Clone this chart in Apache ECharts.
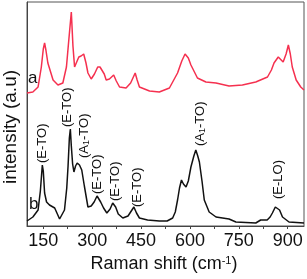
<!DOCTYPE html>
<html><head><meta charset="utf-8">
<script src="https://cdn.jsdelivr.net/npm/echarts@6/dist/echarts.min.js"></script>
<style>html,body{margin:0;padding:0;background:#fff}#c{width:307px;height:279px}</style>
</head><body><div id="c"></div>
<script>
// Raman shift (cm-1) and intensity (a.u.) for spectrum a (red) and b (black)
const shiftA = [100,118,134,144,150,154,158,164,180,195,210,221,228,236,241,246,251,259,266,274,281,287,297,307,317,324,330,337,343,353,366,374,384,404,418,432,438,445,476,506,537,562,575,585,595,603,623,649,680,720,761,802,838,850,858,871,886,895,902,908,914,926,940,950];
const intA   = [133,134,139,159,177,183,176,163,146,141,143,159,185,214,180,159,158,169,170,172,163,153,147,152,159,159,158,152,146,147,151,145,139,138,143,153,146,139,135,134,138,153,165,172,168,161,148,144,143,140,141,144,149,156,163,169,164,172,181,172,159,146,139,136];
const shiftB = [100,118,134,141,147,150,154,160,169,185,200,215,222,226,230,233,236,240,244,249,254,261,268,276,287,297,306,315,320,326,335,345,355,363,372,380,394,410,420,428,436,445,470,506,530,547,555,562,568,574,580,588,595,603,612,618,624,629,637,644,659,680,720,741,802,817,837,846,853,862,868,875,884,904,950];
const intB   = [5,9,16,35,61,55,33,24,21,18,7,16,38,60,88,97,80,62,54,60,63,61,56,40,19,20,24,30,29,24,18,13,17,23,19,12,8,10,15,19,13,8,6,5,5,8,14,26,38,46,42,39,45,59,70,76,70,64,45,26,14,9,7,4,3,6,6,9,13,19,21,16,9,4,3];
// peak assignments
const annoText = ['(E-TO)','(E-TO)','(A{s|1}-TO)','(E-TO)','(E-TO)','(E-TO)','(A{s|1}-TO)','(E-LO)'];
const annoShift = [148,225,275,317,372,439,632,870];
const annoInt = [63,99,68,32,25,19,80,27];
const xTicks = [150,225,300,375,450,525,600,675,750,825,900];
const xLabels = [150,300,450,600,750,900];

const font = 'Liberation Sans, Arial, sans-serif';
const chart = echarts.init(document.getElementById('c'));
chart.setOption({
  animation:false,
  grid:{left:27,right:3,top:2,bottom:53,show:true,borderColor:'#555',borderWidth:1},
  xAxis:{type:'value',min:100,max:950,
    axisLine:{lineStyle:{color:'#444',width:1}},
    axisTick:{show:true,customValues:xTicks,length:3,lineStyle:{color:'#444'}},
    axisLabel:{customValues:xLabels,fontSize:18,color:'#111',fontFamily:font,margin:6},
    splitLine:{show:false}
  },
  yAxis:{type:'value',min:0,max:224,
    axisLine:{show:true,lineStyle:{color:'#444'}},axisTick:{show:false},axisLabel:{show:false},splitLine:{show:false}
  },
  series:[
    {type:'line',data:shiftA.map((w,i)=>[w,intA[i]]),symbol:'none',
     lineStyle:{color:'#f5304f',width:1.5}},
    {type:'line',data:shiftB.map((w,i)=>[w,intB[i]]),symbol:'none',
     lineStyle:{color:'#111',width:1.5},
     markPoint:{symbol:'circle',symbolSize:0,silent:true,
       label:{show:true,position:'inside',rotate:90,align:'left',verticalAlign:'middle',
         fontSize:13,color:'#111',fontFamily:font,formatter:p=>p.name,
         rich:{s:{fontSize:9,verticalAlign:'bottom',color:'#111',fontFamily:font}}},
       data:annoText.map((t,i)=>({name:t,coord:[annoShift[i],annoInt[i]]}))}
    }
  ],
  graphic:[
    {type:'text',left:28,top:70,style:{text:'a',fill:'#111',font:'17px '+font}},
    {type:'text',left:29,top:196,style:{text:'b',fill:'#111',font:'17px '+font}},
    {type:'text',x:11,y:127,rotation:Math.PI/2,style:{text:'intensity (a.u)',fill:'#111',font:'19px '+font,
      align:'center',verticalAlign:'middle',textAlign:'center',textVerticalAlign:'middle'}},
    {type:'text',x:164,y:264,style:{text:'Raman shift (cm{p|-1})',fill:'#111',font:'18px '+font,align:'center',verticalAlign:'middle',
      rich:{p:{fontSize:11,verticalAlign:'top',fill:'#111',fontFamily:font}}}}
  ]
});
</script></body></html>
